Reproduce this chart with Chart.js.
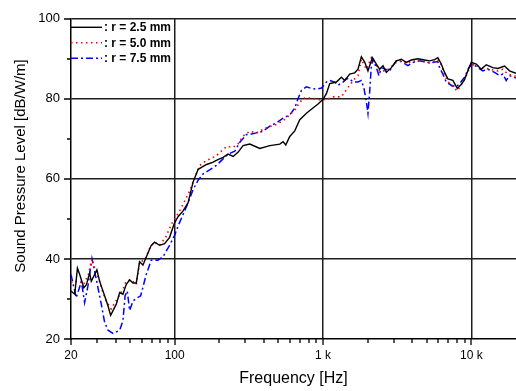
<!DOCTYPE html>
<html><head><meta charset="utf-8">
<script src="https://cdn.jsdelivr.net/npm/chart.js@4.4.1/dist/chart.umd.min.js"></script>
<style>html,body{margin:0;padding:0;background:#fff;}canvas{display:block;}</style>
</head><body>
<canvas id="c" width="516" height="391"></canvas>
<script>
const seriesNames = ['r = 2.5 mm', 'r = 5.0 mm', 'r = 7.5 mm'];

const freq25 = [20,21.2,22.1,22.9,24.4,25.4,26.7,27.4,29.9,31.2,33.7,35.5,37.0,40.4,42.6,44.8,47.1,49.7,52.3,55.1,58.0,61.1,69.5,73.2,79.1,85.5,92.4,99.2,105.6,114,123,133,144,164,182,191,212,229,248,268,289,321,375,438,511,538,561,597,645,697,773,835,926,1000,1054,1110,1231,1330,1400,1513,1635,1721,1814,1910,2009,2151,2289,2409,2536,2673,2888,3121,3373,3644,3938,4362,4839,5230,5652,5949,6270,6599,6946,7506,8035,8551,9001,9472,9985,10790,11662,12602,13960,15085,16736,18085,20000];
const spl25 = [32.0,31.2,37.7,36.1,32.8,33.6,36.5,34.4,37.3,34.4,30.8,28.3,25.9,28.7,31.6,31.2,33.6,34.8,34.0,34.0,39.3,38.5,43.4,44.2,43.4,43.8,45.4,48.8,50.6,52.0,54.0,59.2,62.4,63.6,64.2,64.6,65.4,66.2,65.6,66.7,68.3,68.7,67.6,68.3,68.7,69.3,68.5,70.6,72.0,74.8,76.4,77.4,78.7,79.9,81.3,83.8,84.2,85.4,84.6,86.2,86.5,87.4,90.5,89.2,87.0,90.3,88.7,87.4,88.3,86.6,87.8,89.5,89.9,89.1,89.7,90.0,89.7,89.5,89.8,90.3,88.7,86.6,85.0,84.6,82.6,83.6,84.8,87.0,89.1,88.7,87.4,88.5,87.8,87.6,88.2,87.0,86.4];

const freq50 = [20,20.6,22.9,24.3,26.2,27.7,28.9,31.2,32.8,34.6,37.3,41.4,44.8,47.1,51,55.1,58.0,62.8,67.6,73.2,79.1,87,95,108,126,137,148,164,182,191,224,248,268,289,321,356,416,486,550,597,645,679,733,773,856,976,1081,1168,1330,1513,1635,1721,1814,1960,2118,2229,2409,2673,3121,3373,3644,3938,4362,4839,5230,5652,5949,6270,6599,6946,7506,8035,8766,9472,9832,10790,11955,13264,15085,16300,17614,20000];
const spl50 = [34.0,34.4,34.4,33.6,36.1,40.1,37.7,34.4,31.6,29.5,27.5,30.3,32.4,34.4,34.8,33.6,39.3,39.7,42.6,44.2,43.4,45.4,48.7,52.0,56.9,60.5,63.4,64.6,65.4,65.8,68.1,67.9,68.8,70.7,71.9,71.5,72.8,73.6,74.8,76.0,77.2,78.5,80.1,80.3,80.1,79.7,80.0,80.5,80.5,83.4,85.0,85.8,89.9,87.4,90.3,89.1,87.0,87.0,89.1,89.5,88.8,89.3,89.6,89.3,89.0,89.4,89.8,88.5,86.0,84.3,83.0,82.0,84.2,86.6,88.7,88.3,87.8,87.4,87.0,87.4,86.2,85.6];

const freq75 = [20,21.7,23.5,24.7,26.0,27.7,29.5,32.0,33.7,35.5,38.4,42.6,44.8,46.3,47.9,49.7,52.3,56.1,59.0,64.3,69.5,77.0,83.2,92.4,99.9,105.6,123,133,144,156,173,191,212,229,254,274,305,321,356,394,438,486,538,597,645,679,715,773,835,903,976,1054,1110,1199,1262,1364,1438,1513,1593,1721,1814,1889,1960,2009,2063,2118,2171,2289,2383,2474,2813,3121,3373,3736,4037,4479,5230,5949,6107,6428,6776,7322,7912,8327,9001,9622,10234,11063,11955,12918,14332,15487,16300,17182,18085,20000];
const spl75 = [36.1,30.3,34.4,29.1,33.2,40.1,35.2,28.7,24.2,22.2,21.4,22.2,24.6,30.8,32.0,27.1,29.5,30.3,30.8,36.1,39.7,39.7,40.5,43.4,45.9,48.3,54.0,57.3,59.7,61.3,62.3,63.4,65.0,66.2,66.9,69.1,71.1,71.1,71.5,71.9,73.2,74.0,75.2,76.0,77.7,80.1,82.1,83.0,82.6,82.4,82.7,84.2,84.6,84.2,83.4,84.2,85.0,85.0,84.2,84.2,84.6,82.6,79.3,76.4,81.7,88.3,89.9,87.8,85.8,87.8,87.0,89.5,89.3,88.3,89.1,89.5,89.0,89.3,87.8,86.2,84.2,83.4,83.0,83.8,85.4,87.8,88.7,87.8,87.0,87.4,86.6,85.8,86.2,84.6,85.8,85.2];

const xMajorTicks = [20, 100, 1000, 10000];
const xTickLabels = ['20', '100', '1 k', '10 k'];
const xMinorTicks = [30,40,50,60,70,80,90,200,300,400,500,600,700,800,900,2000,3000,4000,5000,6000,7000,8000,9000];
const yMajorTicks = [20, 40, 60, 80, 100];
const yMinorTicks = [30, 50, 70, 90];

const xTitle = 'Frequency [Hz]';
const yTitle = 'Sound Pressure Level [dB/W/m]';

function pts(f, s) { return f.map((v, i) => ({ x: v, y: s[i] })); }

const styles = [
  { color: '#000000', dash: [], width: 1.4 },
  { color: '#ff0000', dash: [1.5, 3.5], width: 1.6 },
  { color: '#0000ff', dash: [7, 3, 2, 3], width: 1.5 }
];

const decor = {
  id: 'decor',
  afterDraw(chart) {
    const ctx = chart.ctx, xs = chart.scales.x, ys = chart.scales.y, a = chart.chartArea;
    ctx.save();
    ctx.strokeStyle = '#000'; ctx.lineWidth = 1.3; ctx.setLineDash([]);
    ctx.beginPath();
    xMajorTicks.forEach(v => { const p = Math.round(xs.getPixelForValue(v)); ctx.moveTo(p, a.bottom); ctx.lineTo(p, a.bottom + 6); });
    xMinorTicks.forEach(v => { const p = Math.round(xs.getPixelForValue(v)); ctx.moveTo(p, a.bottom); ctx.lineTo(p, a.bottom + 4); });
    yMajorTicks.forEach(v => { const p = Math.round(ys.getPixelForValue(v)); ctx.moveTo(a.left, p); ctx.lineTo(a.left - 7, p); });
    yMinorTicks.forEach(v => { const p = Math.round(ys.getPixelForValue(v)); ctx.moveTo(a.left, p); ctx.lineTo(a.left - 4, p); });
    ctx.stroke();

    // y axis title
    ctx.save();
    ctx.translate(21, 166);
    ctx.rotate(-Math.PI / 2);
    ctx.fillStyle = '#000';
    ctx.font = '15px "Liberation Sans", Arial, sans-serif';
    ctx.textAlign = 'center'; ctx.textBaseline = 'middle';
    ctx.fillText(yTitle, 0, 0);
    ctx.restore();

    // legend
    chart.data.datasets.forEach((ds, i) => {
      const y = a.top + 8.5 + i * 15.5;
      ctx.beginPath();
      ctx.strokeStyle = ds.borderColor; ctx.lineWidth = ds.borderWidth;
      ctx.setLineDash(ds.borderDash);
      ctx.moveTo(a.left, y); ctx.lineTo(a.left + 31, y);
      ctx.stroke();
      ctx.setLineDash([]);
      ctx.fillStyle = '#000';
      ctx.font = 'bold 12px "Liberation Sans", Arial, sans-serif';
      ctx.textAlign = 'left'; ctx.textBaseline = 'middle';
      ctx.fillText(': ' + ds.label, a.left + 33, y + 0.5);
    });
    ctx.restore();
  }
};

const gridColor = '#1e1e1e';

new Chart(document.getElementById('c'), {
  type: 'line',
  data: {
    datasets: [
      { label: seriesNames[0], data: pts(freq25, spl25) },
      { label: seriesNames[1], data: pts(freq50, spl50) },
      { label: seriesNames[2], data: pts(freq75, spl75) }
    ].map((d, i) => Object.assign(d, {
      borderColor: styles[i].color, borderDash: styles[i].dash, borderWidth: styles[i].width,
      pointRadius: 0, tension: 0, fill: false
    }))
  },
  options: {
    responsive: false, animation: false, devicePixelRatio: 1,
    layout: { padding: { top: 12, right: 0, left: 0, bottom: 0 } },
    plugins: { legend: { display: false }, tooltip: { enabled: false } },
    scales: {
      x: {
        type: 'logarithmic', min: 20, max: 20000,
        afterBuildTicks: s => { s.ticks = xMajorTicks.concat(xMinorTicks).sort((p, q) => p - q).map(v => ({ value: v })); },
        afterFit: s => { s.height = 52; },
        ticks: {
          autoSkip: false, maxRotation: 0, padding: 9, color: '#000',
          font: { size: 12, family: '"Liberation Sans", Arial, sans-serif' },
          callback: v => { const k = xMajorTicks.indexOf(v); return k >= 0 ? xTickLabels[k] : ''; }
        },
        grid: {
          drawTicks: false, lineWidth: 1.5,
          color: c => (c.tick && xMajorTicks.indexOf(c.tick.value) > 0) ? gridColor : 'rgba(0,0,0,0)'
        },
        border: { display: true, color: '#000', width: 1.5 },
        title: { display: true, text: xTitle, color: '#000', font: { size: 16, family: '"Liberation Sans", Arial, sans-serif' }, padding: { top: 0, bottom: 3 } }
      },
      y: {
        type: 'linear', min: 20, max: 100,
        afterBuildTicks: s => { s.ticks = yMajorTicks.concat(yMinorTicks).sort((p, q) => p - q).map(v => ({ value: v })); },
        afterFit: s => { s.width = 71; },
        ticks: {
          autoSkip: false, padding: 11, color: '#000',
          font: { size: 13, family: '"Liberation Sans", Arial, sans-serif' },
          callback: v => yMajorTicks.indexOf(v) >= 0 ? String(v) : ''
        },
        grid: {
          drawTicks: false, lineWidth: 1.5,
          color: c => (c.tick && yMajorTicks.indexOf(c.tick.value) > 0) ? gridColor : 'rgba(0,0,0,0)'
        },
        border: { display: true, color: '#000', width: 1.5 }
      }
    }
  },
  plugins: [decor]
});
</script>
</body></html>
